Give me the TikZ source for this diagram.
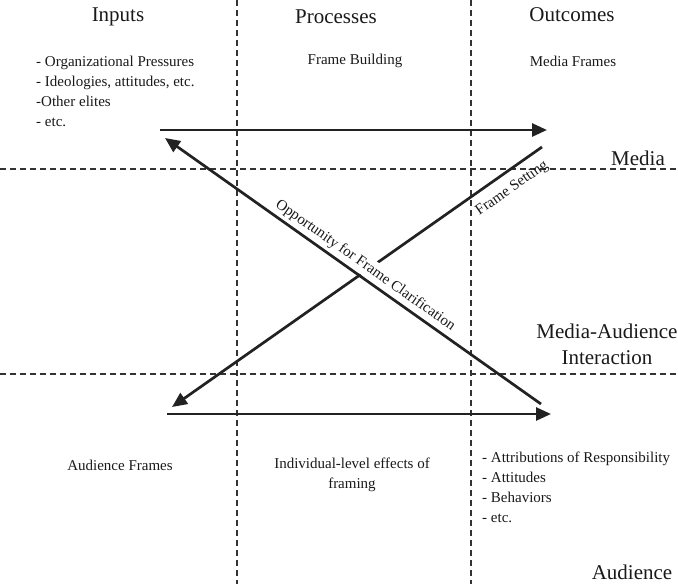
\documentclass[tikz,border=0pt]{standalone}
\usepackage{fontspec}
\setmainfont{Liberation Serif}
\usetikzlibrary{arrows.meta}
\definecolor{textcol}{HTML}{1A1A1A}
\definecolor{linecol}{HTML}{222222}
\definecolor{divcol}{HTML}{333333}
\begin{document}
\begin{tikzpicture}[x=1pt,y=-1pt,
  every node/.style={inner sep=0pt, text=textcol},
  head/.style={font=\fontsize{21}{26}\selectfont},
  body/.style={font=\fontsize{15}{20}\selectfont},
  divider/.style={draw=divcol, line width=1.1pt, dash pattern=on 6pt off 4pt},
  flow/.style={draw=linecol, line width=2.7pt, -{Triangle[length=15pt,width=13pt]}},
  lbl/.style={font=\fontsize{15}{18}\selectfont, sloped}
]
\useasboundingbox (0,0) rectangle (678,584);
\fill[white] (0,0) rectangle (678,584);

% dividers
\draw[divider] (237,0) -- (237,584);
\draw[divider] (471,0) -- (471,584);
\draw[divider] (0,169) -- (678,169);
\draw[divider] (0,374) -- (678,374);

% column headers
\node[head] (inputs) at (118,17) {Inputs};
\node[head] (processes) at (336,17) {Processes};
\node[head] (outcomes) at (572,15) {Outcomes};

% row headers
\node[head] (media) at (638,158) {Media};
\node[head, align=center] (interaction) at (607,344) {Media-Audience\\Interaction};
\node[head] (audience) at (632,572) {Audience};

% media row texts
\node[body, align=left, anchor=west] (inputlist) at (36,91)
  {- Organizational Pressures\\- Ideologies, attitudes, etc.\\-Other elites\\- etc.};
\node[body] (framebuilding) at (355,61) {Frame Building};
\node[body] (mediaframes) at (573,61) {Media Frames};

% audience row texts
\node[body] (audienceframes) at (120,465) {Audience Frames};
\node[body, align=center] (effects) at (352,475) {Individual-level effects of\\framing};
\node[body, align=left, anchor=west] (outcomelist) at (482,487)
  {- Attributions of Responsibility\\- Attitudes\\- Behaviors\\- etc.};

% arrow end points
\coordinate (mTopL) at (160,130);
\coordinate (mTopR) at (547,130);
\coordinate (aBotL) at (167,414);
\coordinate (aBotR) at (551,414);
\coordinate (fsStart) at (542,147);
\coordinate (fsEnd) at (172,407);
\coordinate (ocStart) at (541,404);
\coordinate (ocEnd) at (165,138);

% arrows
\draw[flow] (mTopL) -- (mTopR);
\draw[flow] (aBotL) -- (aBotR);
\draw[flow] (fsStart) -- node[lbl, pos=0.107, below=9pt] (fslabel) {Frame Setting} (fsEnd);
\path (ocStart) -- node[lbl, pos=0.485, above=1.5pt, fill=white, inner sep=3pt] (oclabel)
  {Opportunity for Frame Clarification} (ocEnd);
\draw[flow] (ocStart) -- (ocEnd);
\end{tikzpicture}
\end{document}
